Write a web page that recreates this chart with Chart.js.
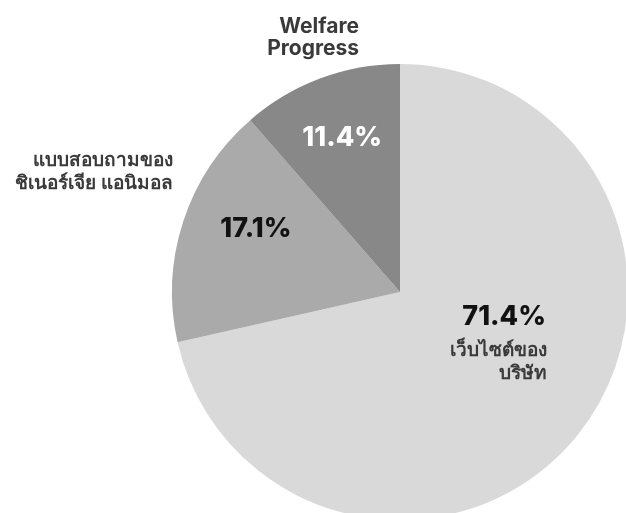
<!DOCTYPE html>
<html>
<head>
<meta charset="utf-8">
<script src="https://cdn.jsdelivr.net/npm/chart.js@4.4.0/dist/chart.umd.min.js"></script>
<style>
  html, body { margin: 0; padding: 0; background: #fff; overflow: hidden; }
  #wrap { position: absolute; left: 0; top: 0; width: 640px; height: 540px; }
</style>
</head>
<body>
<div id="wrap"><canvas id="grafico"></canvas></div>
<script>
// datos del grafico
const categorias = [
    ["เว็บไซต์ของ", "บริษัท"],
    ["แบบสอบถามของ", "ชิเนอร์เจีย แอนิมอล"],
    ["Welfare", "Progress"]
];
const valores = [71.4, 17.1, 11.4];
const colores = ["#d9d9d9", "#aaaaaa", "#888888"];

// donde va cada texto (angulo desde arriba en grados, fraccion del radio)
const pos_pct = [
    { ang: 103, r: 0.48, align: "right", dx: 146 / 228, color: "#111" },
    { ang: -66.4, r: 0.69, align: "center", color: "#111" },
    { ang: -20.6, r: 0.72, align: "center", color: "#fff" }
];

const etiquetas = {
    id: "etiquetas",
    afterDatasetsDraw(chart){
        const ctx = chart.ctx;
        const arc = chart.getDatasetMeta(0).data[0];
        const cx = arc.x, cy = arc.y, R = arc.outerRadius;
        const fuente = "Inter, 'Noto Sans', sans-serif";
        ctx.save();
        ctx.textBaseline = "middle";

        // porcentajes
        valores.forEach((v, i) => {
            let p = pos_pct[i];
            let a = p.ang * Math.PI / 180;
            let x = cx + Math.sin(a) * R * p.r;
            let y = cy - Math.cos(a) * R * p.r;
            ctx.font = "800 27px " + fuente;
            ctx.fillStyle = p.color;
            if (i == 0) {
                ctx.textAlign = "right";
                x = cx + R * p.dx;
                y = cy + R * (25 / 228);
            } else {
                ctx.textAlign = "center";
            }
            ctx.fillText(v.toFixed(1) + "%", x, y);
        });

        ctx.fillStyle = "#3a3a3a";
        ctx.textAlign = "right";
        // etiqueta de la porcion grande, debajo del porcentaje
        ctx.font = "600 19px " + fuente;
        categorias[0].forEach((t, k) => {
            ctx.fillText(t, cx + R * (147 / 228), cy + R * (58 / 228) + k * 23);
        });
        // etiqueta porcion mediana, afuera a la izquierda
        categorias[1].forEach((t, k) => {
            ctx.fillText(t, cx - R + 1, cy - R * (132 / 228) + k * 23);
        });
        // etiqueta porcion chica, arriba
        ctx.font = "bold 21px " + fuente;
        categorias[2].forEach((t, k) => {
            ctx.fillText(t, cx - R * (41 / 228), cy - R - 37 + k * 22);
        });
        ctx.restore();
    }
};

new Chart(document.getElementById("grafico"), {
    type: "pie",
    data: {
        labels: categorias.map(c => c.join(" ")),
        datasets: [{
            data: valores,
            backgroundColor: colores,
            borderWidth: 0
        }]
    },
    options: {
        responsive: true,
        maintainAspectRatio: false,
        animation: false,
        layout: { padding: { left: 172, right: 12, top: 64, bottom: 20 } },
        plugins: {
            legend: { display: false },
            tooltip: { enabled: false }
        }
    },
    plugins: [etiquetas]
});
</script>
</body>
</html>
